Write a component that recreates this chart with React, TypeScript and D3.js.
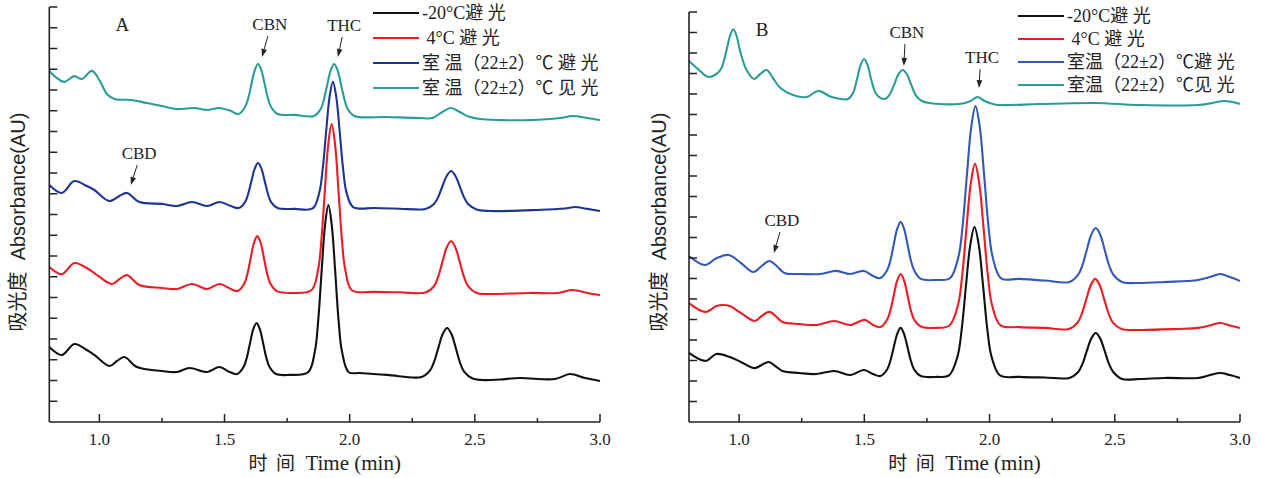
import React from 'react';
import * as d3 from 'd3';

type P = [number, number];

// ---------- data (time min, absorbance AU) ----------
const A_black: P[] = [[0.80,3.61],[0.85,3.23],[0.90,3.76],[0.95,3.47],[0.98,3.23],[1.04,2.70],[1.07,2.94],[1.10,3.13],[1.15,2.65],[1.25,2.46],[1.31,2.41],[1.36,2.60],[1.43,2.41],[1.48,2.65],[1.52,2.41],
  [1.550,2.31],[1.576,2.65],[1.589,3.10],[1.602,3.81],[1.615,4.48],[1.628,4.77],[1.641,4.48],[1.654,3.81],[1.667,3.10],[1.680,2.65],[1.706,2.31],
  [1.76,2.27],
  [1.834,2.40],[1.861,3.41],[1.8745,4.92],[1.888,7.28],[1.9015,9.48],[1.915,10.46],[1.9285,9.48],[1.942,7.28],[1.9555,4.92],[1.969,3.41],[1.996,2.40],
  [2.04,2.36],[2.15,2.27],
  [2.287,2.17],[2.321,2.49],[2.338,2.93],[2.355,3.61],[2.372,4.25],[2.389,4.53],[2.406,4.25],[2.423,3.61],[2.440,2.89],[2.457,2.43],[2.491,2.10],
  [2.54,2.02],[2.60,2.05],[2.68,2.12],[2.82,2.07],[2.88,2.31],[2.94,2.12],[3.00,1.98]];
const A_red: P[] = [[0.80,7.47],[0.85,7.13],[0.90,7.66],[0.95,7.42],[0.98,7.18],[1.05,6.65],[1.08,6.89],[1.11,7.08],[1.16,6.60],[1.25,6.46],[1.31,6.41],[1.37,6.65],[1.43,6.41],[1.48,6.65],[1.525,6.41],
  [1.553,6.31],[1.579,6.67],[1.592,7.16],[1.605,7.93],[1.618,8.65],[1.631,8.96],[1.644,8.65],[1.657,7.93],[1.670,7.16],[1.683,6.67],[1.709,6.31],
  [1.77,6.22],
  [1.847,6.35],[1.874,7.36],[1.8875,8.86],[1.901,11.20],[1.9145,13.39],[1.928,14.36],[1.9415,13.39],[1.955,11.20],[1.9685,8.86],[1.982,7.36],[2.009,6.35],
  [2.10,6.27],[2.20,6.25],
  [2.303,6.24],[2.337,6.55],[2.354,7.02],[2.371,7.74],[2.388,8.42],[2.405,8.72],[2.422,8.42],[2.439,7.74],[2.456,7.02],[2.473,6.55],[2.507,6.22],
  [2.56,6.17],[2.72,6.22],[2.83,6.22],[2.89,6.36],[2.95,6.22],[3.00,6.12]];
const A_blue: P[] = [[0.80,11.42],[0.85,11.04],[0.90,11.61],[0.95,11.37],[0.98,11.18],[1.04,10.65],[1.08,10.89],[1.11,11.04],[1.16,10.60],[1.25,10.51],[1.31,10.41],[1.37,10.60],[1.43,10.41],[1.48,10.60],[1.525,10.41],
  [1.556,10.31],[1.582,10.60],[1.595,11.01],[1.608,11.64],[1.621,12.22],[1.634,12.48],[1.647,12.22],[1.660,11.64],[1.673,11.01],[1.686,10.60],[1.712,10.31],
  [1.78,10.27],
  [1.852,10.29],[1.879,11.08],[1.8925,12.22],[1.906,14.00],[1.9195,15.66],[1.933,16.39],[1.9465,15.66],[1.960,14.00],[1.9735,12.22],[1.987,11.08],[2.014,10.36],
  [2.10,10.31],[2.20,10.28],
  [2.303,10.27],[2.337,10.51],[2.354,10.85],[2.371,11.38],[2.388,11.87],[2.405,12.10],[2.422,11.87],[2.439,11.38],[2.456,10.85],[2.473,10.51],[2.507,10.24],
  [2.56,10.17],[2.75,10.22],[2.86,10.29],[2.90,10.36],[2.95,10.27],[3.00,10.17]];
const A_teal: P[] = [[0.80,16.92],[0.83,16.58],[0.86,16.39],[0.90,16.67],[0.93,16.53],[0.97,16.92],[1.00,16.48],[1.03,15.81],[1.06,15.57],[1.13,15.52],[1.19,15.37],[1.25,15.23],[1.31,15.08],[1.38,15.13],[1.43,15.04],[1.48,15.13],[1.525,14.99],
  [1.556,14.84],[1.582,15.18],[1.595,15.61],[1.608,16.31],[1.621,16.96],[1.634,17.25],[1.647,16.96],[1.660,16.31],[1.673,15.61],[1.686,15.18],[1.712,14.84],
  [1.78,14.80],
  [1.857,14.75],[1.884,15.08],[1.8975,15.57],[1.911,16.29],[1.9245,16.96],[1.938,17.25],[1.9515,16.96],[1.965,16.29],[1.9785,15.57],[1.992,15.08],[2.019,14.75],
  [2.15,14.70],[2.28,14.65],
  [2.33,14.65],[2.37,14.94],[2.405,15.13],[2.44,14.94],[2.475,14.72],[2.52,14.60],
  [2.60,14.55],[2.72,14.55],[2.84,14.65],[2.89,14.75],[2.95,14.65],[3.00,14.55]];

const B_black: P[] = [[0.80,3.37],[0.866,2.98],[0.909,3.32],[0.963,3.17],[1.007,2.93],[1.062,2.63],[1.09,2.78],[1.118,2.93],[1.15,2.68],[1.173,2.49],[1.24,2.39],[1.308,2.34],[1.380,2.49],[1.443,2.29],[1.499,2.54],[1.535,2.34],
  [1.564,2.24],[1.591,2.56],[1.6045,3.00],[1.618,3.67],[1.6315,4.30],[1.645,4.59],[1.6585,4.30],[1.672,3.67],[1.6855,3.00],[1.699,2.56],[1.726,2.24],
  [1.79,2.20],
  [1.838,2.27],[1.872,3.19],[1.889,4.54],[1.906,6.66],[1.923,8.63],[1.940,9.51],[1.957,8.63],[1.974,6.66],[1.991,4.54],[2.008,3.19],[2.042,2.27],
  [2.12,2.20],[2.22,2.17],
  [2.319,2.15],[2.354,2.44],[2.3715,2.85],[2.389,3.49],[2.4065,4.08],[2.424,4.34],[2.4415,4.08],[2.459,3.49],[2.4765,2.85],[2.494,2.44],[2.529,2.10],
  [2.60,2.10],[2.70,2.15],[2.833,2.15],[2.88,2.29],[2.921,2.39],[2.96,2.29],[3.00,2.15]];
const B_red: P[] = [[0.80,5.80],[0.866,5.37],[0.909,5.66],[0.935,5.71],[0.963,5.66],[1.007,5.32],[1.062,4.93],[1.09,5.17],[1.121,5.37],[1.15,5.12],[1.173,4.88],[1.24,4.78],[1.308,4.73],[1.380,4.93],[1.443,4.73],[1.502,4.98],[1.535,4.73],
  [1.564,4.63],[1.591,4.99],[1.6045,5.46],[1.618,6.21],[1.6315,6.91],[1.645,7.22],[1.6585,6.91],[1.672,6.21],[1.6855,5.46],[1.699,4.99],[1.726,4.66],
  [1.79,4.59],
  [1.840,4.71],[1.874,5.71],[1.891,7.18],[1.908,9.48],[1.925,11.63],[1.942,12.59],[1.959,11.63],[1.976,9.48],[1.993,7.18],[2.010,5.71],[2.044,4.71],
  [2.12,4.63],[2.22,4.59],
  [2.317,4.54],[2.352,4.86],[2.3695,5.32],[2.387,6.02],[2.4045,6.68],[2.422,6.98],[2.4395,6.68],[2.457,6.02],[2.4745,5.32],[2.492,4.86],[2.527,4.54],
  [2.60,4.49],[2.75,4.54],[2.833,4.59],[2.88,4.71],[2.921,4.83],[2.96,4.71],[3.00,4.59]];
const B_blue: P[] = [[0.80,8.10],[0.864,7.66],[0.911,8.00],[0.959,8.15],[1.007,7.76],[1.057,7.32],[1.09,7.61],[1.121,7.85],[1.15,7.61],[1.181,7.27],[1.25,7.22],[1.324,7.22],[1.388,7.37],[1.443,7.22],[1.499,7.37],[1.535,7.12],
  [1.564,7.02],[1.591,7.40],[1.6045,7.90],[1.618,8.69],[1.6315,9.43],[1.645,9.76],[1.6585,9.43],[1.672,8.69],[1.6855,7.90],[1.699,7.40],[1.726,6.98],
  [1.79,6.93],
  [1.842,7.01],[1.876,8.07],[1.893,9.64],[1.910,12.10],[1.927,14.40],[1.944,15.41],[1.961,14.40],[1.978,12.10],[1.995,9.64],[2.012,8.07],[2.046,7.01],
  [2.12,6.98],[2.22,6.90],
  [2.319,6.83],[2.354,7.19],[2.3715,7.67],[2.389,8.43],[2.4065,9.15],[2.424,9.46],[2.4415,9.15],[2.459,8.43],[2.4765,7.67],[2.494,7.19],[2.529,6.83],
  [2.595,6.78],[2.70,6.83],[2.833,6.93],[2.88,7.07],[2.921,7.22],[2.96,7.07],[3.00,6.88]];
const B_teal: P[] = [[0.80,17.61],[0.84,17.17],[0.877,16.83],[0.91,16.98],[0.93,17.27],[0.95,18.15],[0.965,18.88],[0.977,19.16],[0.99,18.83],[1.005,18.05],[1.03,17.17],[1.06,16.73],[1.085,16.98],[1.11,17.17],[1.135,16.78],[1.165,16.29],[1.215,15.95],[1.27,15.85],[1.316,16.15],[1.37,15.85],[1.435,15.76],[1.455,16.05],[1.47,16.68],[1.485,17.41],[1.499,17.71],[1.513,17.41],[1.528,16.68],[1.545,16.05],[1.565,15.80],[1.582,15.76],[1.60,15.95],[1.62,16.49],[1.637,16.98],[1.653,17.17],[1.669,16.98],[1.686,16.49],[1.705,15.95],[1.73,15.66],[1.76,15.56],[1.88,15.51],[1.925,15.66],[1.952,15.85],[1.98,15.66],[2.02,15.49],[2.06,15.46],[2.20,15.51],[2.42,15.56],[2.60,15.46],[2.83,15.46],[2.89,15.56],[2.937,15.66],[2.97,15.61],[3.00,15.51]];

const legendA = ['-20°C避 光', ' 4°C 避 光', '室 温（22±2）℃ 避 光', '室 温（22±2）℃ 见 光'];
const legendB = ['-20°C避 光', ' 4°C 避 光', '室温（22±2）℃避 光', '室温（22±2）℃见 光'];
const colorsA = ['#111111', '#ec1c24', '#1d3491', '#2a9d96'];
const colorsB = ['#111111', '#ec1c24', '#3358b8', '#2a9d96'];

const xMajorTicks = [1.0, 1.5, 2.0, 2.5, 3.0];
const xMajorLabels = ['1.0', '1.5', '2.0', '2.5', '3.0'];
const xMinorTicks = [1.25, 1.75, 2.25, 2.75];
const xDomain: [number, number] = [0.8, 3.0];
const yDomain: [number, number] = [0, 20];
const yTickValues = d3.range(1, 21);

type Ann = { text: string; lt: number; lv: number; tt: number; tv: number };
const annA: Ann[] = [
  { text: 'CBN', lt: 1.681, lv: 19.18, tt: 1.650, tv: 17.59 },
  { text: 'THC', lt: 1.978, lv: 19.13, tt: 1.953, tv: 17.59 },
  { text: 'CBD', lt: 1.159, lv: 12.96, tt: 1.126, tv: 11.42 },
];
const annB: Ann[] = [
  { text: 'CBN', lt: 1.670, lv: 19.02, tt: 1.658, tv: 17.37 },
  { text: 'THC', lt: 1.970, lv: 17.80, tt: 1.958, tv: 16.29 },
  { text: 'CBD', lt: 1.171, lv: 9.85, tt: 1.139, tv: 8.24 },
];

const SERIF = "'Liberation Serif', 'Times New Roman', 'Noto Sans CJK SC', serif";
const SANS = "'Liberation Sans', Arial, 'Noto Sans CJK SC', sans-serif";
const CJK = "'Noto Sans CJK SC', sans-serif";

type PanelProps = {
  x0: number; x1: number; yTop: number; yBot: number;
  series: P[][]; colors: string[]; legend: string[];
  legX: number; legY: number[]; letter: string; ann: Ann[]; ylabX: number;
};

function Panel({ x0, x1, yTop, yBot, series, colors, legend, legX, legY, letter, ann, ylabX }: PanelProps) {
  const x = d3.scaleLinear().domain(xDomain).range([x0, x1]);
  const y = d3.scaleLinear().domain(yDomain).range([yBot, yTop]);
  const line = d3.line<P>().x(d => x(d[0])).y(d => y(d[1])).curve(d3.curveCatmullRom.alpha(0.5));
  const axisColor = '#222';
  return (
    <g>
      {series.map((s, i) => (
        <path key={i} d={line(s) || ''} fill="none" stroke={colors[i]} strokeWidth={2.1} strokeLinejoin="round" />
      ))}
      <line x1={x0} x2={x0} y1={yTop} y2={yBot} stroke={axisColor} strokeWidth={1.6} />
      <line x1={x0} x2={x1} y1={yBot} y2={yBot} stroke={axisColor} strokeWidth={1.6} />
      {yTickValues.map(v => (
        <line key={'yt' + v} x1={x0} x2={x0 + 8} y1={y(v)} y2={y(v)} stroke={axisColor} strokeWidth={1.5} />
      ))}
      {xMajorTicks.map(t => (
        <line key={'xm' + t} x1={x(t)} x2={x(t)} y1={yBot} y2={yBot - 8} stroke={axisColor} strokeWidth={1.5} />
      ))}
      {xMinorTicks.map(t => (
        <line key={'xn' + t} x1={x(t)} x2={x(t)} y1={yBot} y2={yBot - 4} stroke={axisColor} strokeWidth={1.5} />
      ))}
      {xMajorTicks.map((t, i) => (
        <text key={'xl' + t} x={x(t)} y={445} textAnchor="middle" fontFamily={SERIF} fontSize={17} fill="#222">{xMajorLabels[i]}</text>
      ))}
      <text x={(x0 + x1) / 2} y={470} textAnchor="middle" fontSize={21} fill="#222" style={{ whiteSpace: 'pre' }}>
        <tspan fontFamily={CJK} fontSize={19}>时  间</tspan>
        <tspan fontFamily={SERIF}>  Time (min)</tspan>
      </text>
      <text transform={`translate(${ylabX},222) rotate(-90)`} textAnchor="middle" fontSize={20} fill="#222" style={{ whiteSpace: 'pre' }}>
        <tspan fontFamily={CJK}>吸光度</tspan>
        <tspan fontFamily={SANS}>  Absorbance(AU)</tspan>
      </text>
      <text x={x0 + 73} y={yTop + 24} textAnchor="middle" fontFamily={SERIF} fontSize={19} fill="#222">{letter}</text>
      {ann.map((a, i) => {
        const lx = x(a.lt), ly = y(a.lv);
        const tx = x(a.tt), ty = y(a.tv);
        const sx = lx - 2, sy = ly + 12;
        const ang = Math.atan2(ty - sy, tx - sx);
        const L = 8, W = 2.8;
        const bx = tx - L * Math.cos(ang), by = ty - L * Math.sin(ang);
        const px = -Math.sin(ang) * W, py = Math.cos(ang) * W;
        return (
          <g key={'an' + i}>
            <text x={lx} y={ly + 6} textAnchor="middle" fontFamily={SERIF} fontSize={17} fill="#222">{a.text}</text>
            <line x1={sx} y1={sy} x2={bx} y2={by} stroke="#222" strokeWidth={1} />
            <path d={`M${tx},${ty}L${bx + px},${by + py}L${bx - px},${by - py}Z`} fill="#222" />
          </g>
        );
      })}
      {legend.map((lab, i) => (
        <g key={'lg' + i}>
          <line x1={legX} x2={legX + 46} y1={legY[i]} y2={legY[i]} stroke={colors[i]} strokeWidth={2.2} />
          <text x={legX + 49} y={legY[i] + 6} fontFamily={SERIF} fontSize={18} fill="#222" style={{ whiteSpace: 'pre' }}>{lab}</text>
        </g>
      ))}
    </g>
  );
}

export default function App() {
  return (
    <svg width={1265} height={478} style={{ position: 'absolute', left: 0, top: 0, background: '#fff' }}>
      <rect width={1265} height={478} fill="#fff" />
      <Panel x0={49.3} x1={600} yTop={7} yBot={422} series={[A_black, A_red, A_blue, A_teal]} colors={colorsA}
        legend={legendA} legX={373} legY={[13, 38, 63, 88]} letter="A" ann={annA} ylabX={25} />
      <Panel x0={689} x1={1240} yTop={12} yBot={422} series={[B_black, B_red, B_blue, B_teal]} colors={colorsB}
        legend={legendB} legX={1018} legY={[16, 39, 62, 85]} letter="B" ann={annB} ylabX={666} />
    </svg>
  );
}
